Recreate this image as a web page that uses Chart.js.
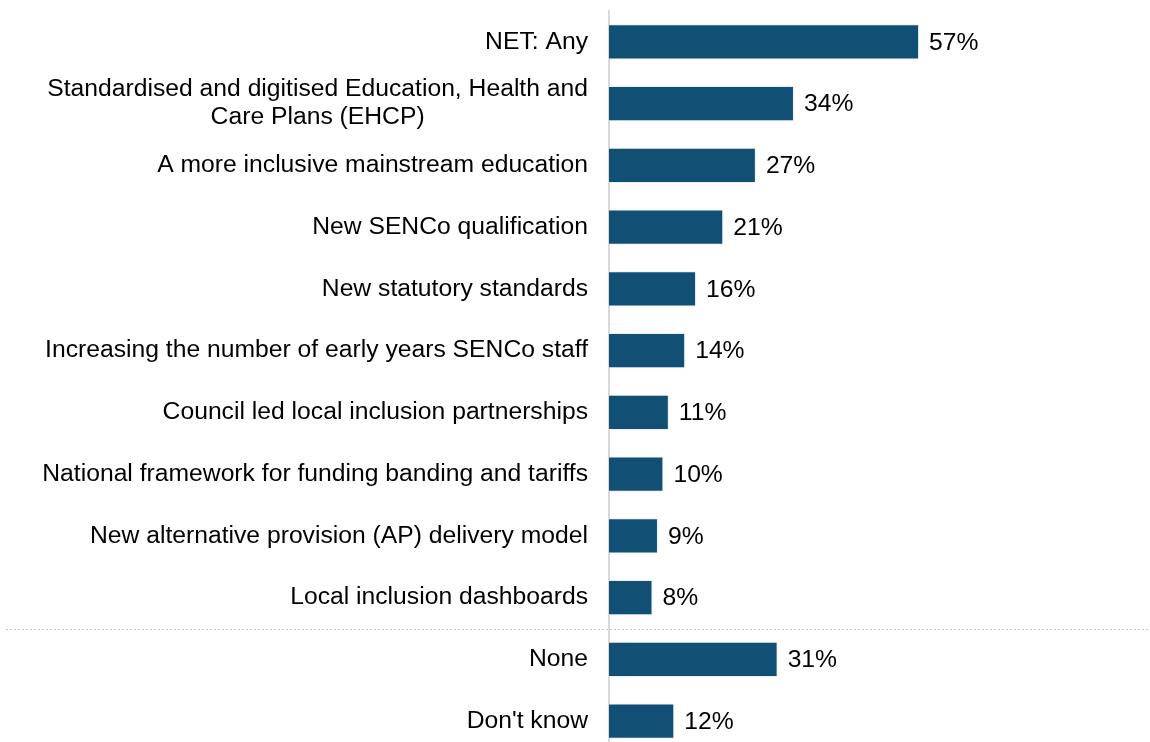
<!DOCTYPE html>
<html>
<head>
<meta charset="utf-8">
<script src="https://cdn.jsdelivr.net/npm/chart.js@4"></script>
<style>
  html, body { margin: 0; padding: 0; background: #fff; overflow: hidden; }
  #wrap { position: absolute; left: 0; top: 0; width: 1153px; height: 752px; }
</style>
</head>
<body>
<div id="wrap"><canvas id="grafico_bar" width="1153" height="752"></canvas></div>
<script>
// respostas (% de respondentes)
const categorias = [
  'NET: Any',
  ['Standardised and digitised Education, Health and', 'Care Plans (EHCP)'],
  'A more inclusive mainstream education',
  'New SENCo qualification',
  'New statutory standards',
  'Increasing the number of early years SENCo staff',
  'Council led local inclusion partnerships',
  'National framework for funding banding and tariffs',
  'New alternative provision (AP) delivery model',
  'Local inclusion dashboards',
  'None',
  "Don't know"
]
const valores = [57, 34, 27, 21, 16, 14, 11, 10, 9, 8, 31, 12]
// linha pontilhada depois deste índice
const separador_depois = 9

const fonte = '"Liberation Sans", Arial, sans-serif'
const tam_fonte = 24.7
const pad_rotulo = 21
const entrelinha = 28

// rótulos de valor no fim de cada barra
const rotulos = {
  id: 'rotulos',
  afterDatasetsDraw(chart) {
    const ctx = chart.ctx
    const meta = chart.getDatasetMeta(0)
    ctx.save()
    ctx.font = tam_fonte + 'px ' + fonte
    ctx.fillStyle = '#000'
    ctx.textAlign = 'left'
    ctx.textBaseline = 'middle'
    meta.data.forEach((bar, i) => {
      ctx.fillText(valores[i] + '%', bar.x + 10, bar.y + 1)
    })
    ctx.restore()
  }
}

// categorias em duas linhas: texto centralizado, bloco encostado à direita
const multilinha = {
  id: 'multilinha',
  afterDraw(chart) {
    const y = chart.scales.y
    const ctx = chart.ctx
    ctx.save()
    ctx.font = tam_fonte + 'px ' + fonte
    ctx.fillStyle = '#000'
    ctx.textAlign = 'center'
    ctx.textBaseline = 'middle'
    categorias.forEach((cat, i) => {
      if (!Array.isArray(cat)) return
      const larg = Math.max(...cat.map(l => ctx.measureText(l).width))
      const cx = y.right - pad_rotulo - larg / 2
      const cy = y.getPixelForValue(i)
      cat.forEach((linha, j) => {
        ctx.fillText(linha, cx, cy + (j - (cat.length - 1) / 2) * entrelinha)
      })
    })
    ctx.restore()
  }
}

// separador entre as respostas e None / Don't know
const separador = {
  id: 'separador',
  afterDraw(chart) {
    const y = chart.scales.y
    const py = (y.getPixelForValue(separador_depois) + y.getPixelForValue(separador_depois + 1)) / 2
    const ctx = chart.ctx
    ctx.save()
    ctx.strokeStyle = '#c4c4c4'
    ctx.lineWidth = 1
    ctx.setLineDash([2, 2])
    ctx.beginPath()
    ctx.moveTo(6, Math.round(py) + 0.5)
    ctx.lineTo(chart.width, Math.round(py) + 0.5)
    ctx.stroke()
    ctx.restore()
  }
}

Chart.defaults.font.family = fonte
Chart.defaults.font.size = tam_fonte
Chart.defaults.color = '#000'

const ctx = document.getElementById('grafico_bar')

const data = {
  labels: categorias,
  datasets: [{
    data: valores,
    backgroundColor: '#124f74',
    borderColor: 'rgba(230,238,244,0.9)',
    borderWidth: 1,
    borderSkipped: 'start',
    barPercentage: 0.567,
    categoryPercentage: 1
  }]
}

const config = {
  type: 'bar',
  data,
  options: {
    indexAxis: 'y',
    responsive: false,
    animation: false,
    layout: { padding: { top: 11, bottom: 0, left: 0, right: 0 } },
    plugins: {
      legend: { display: false },
      tooltip: { enabled: false }
    },
    scales: {
      x: {
        display: false,
        min: 0,
        max: 100
      },
      y: {
        grid: { display: false, drawTicks: false },
        border: { display: true, color: '#d9d9d9', width: 2 },
        ticks: {
          padding: pad_rotulo,
          font: { size: tam_fonte },
          color: '#000',
          autoSkip: false,
          // as de duas linhas são desenhadas pelo plugin multilinha
          callback(valor) {
            const cat = categorias[valor]
            return Array.isArray(cat) ? '' : cat
          }
        },
        afterFit(scale) {
          scale.width = 609
          scale.paddingTop = 0
          scale.paddingBottom = 0
        }
      }
    }
  },
  plugins: [rotulos, multilinha, separador]
}

const graph = new Chart(ctx, config)
</script>
</body>
</html>
